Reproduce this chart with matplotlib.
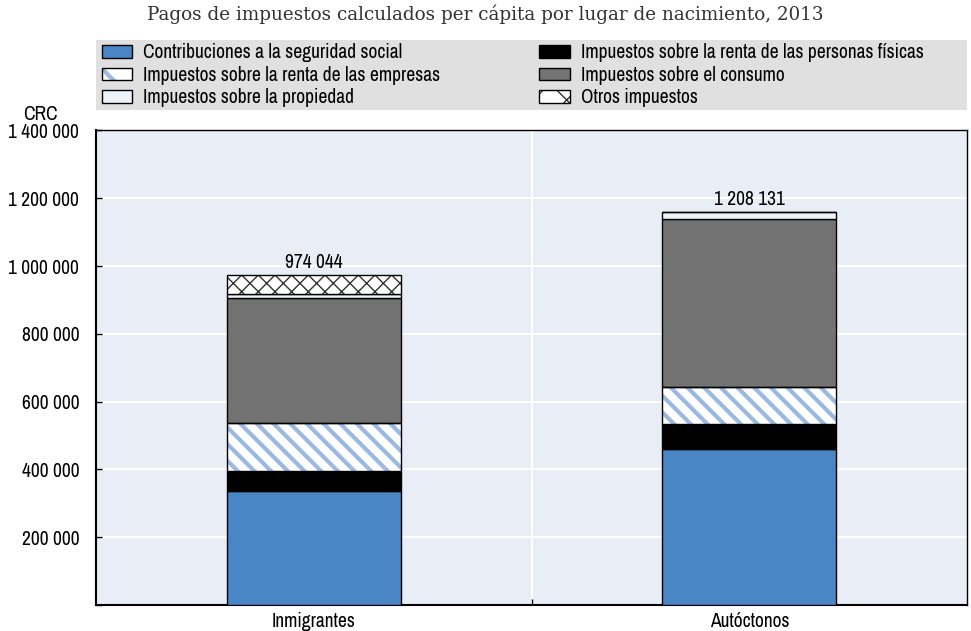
import numpy as np
import matplotlib.pyplot as plt
from matplotlib import font_manager
from matplotlib.patches import Patch, Rectangle
from matplotlib import ticker

# look for a narrow sans face, the reference uses an Arial Narrow look
narrow = None
for f in font_manager.fontManager.ttflist:
    if 'Narrow' in f.name or 'Condensed' in f.name:
        narrow = f.name
        break
if narrow:
    plt.rcParams['font.family'] = [narrow, 'Liberation Sans', 'DejaVu Sans']
    base = 14
else:
    plt.rcParams['font.family'] = ['Liberation Sans', 'DejaVu Sans']
    base = 11

groups = ['Inmigrantes', 'Autóctonos']
social = [335000, 459000]
personal = [61000, 74000]
corporate = [142000, 111000]
consumption = [367000, 494000]
property_tax = [13000, 22000]
other = [56000, 0]
totals = [974044, 1208131]

labels = ['Contribuciones a la seguridad social',
          'Impuestos sobre la renta de las personas físicas',
          'Impuestos sobre la renta de las empresas',
          'Impuestos sobre el consumo',
          'Impuestos sobre la propiedad',
          'Otros impuestos']
series = [social, personal, corporate, consumption, property_tax, other]
# face colour, hatch colour, hatch, hatch width
styles = [('#4A86C6', None, None, 0),
          ('#000000', None, None, 0),
          ('#FFFFFF', '#9CB9E2', '\\\\', 3.0),
          ('#737373', None, None, 0),
          ('#EEF2F9', None, None, 0),
          ('#FFFFFF', '#333333', 'xx', 1.0)]

fig = plt.figure(figsize=(9.71, 6.31), dpi=100)
ax = fig.add_axes([0.0989, 0.0412, 0.897, 0.752])
ax.set_facecolor('#E9EDF6')

x = np.arange(len(groups))
width = 0.4
bottom = np.zeros(len(groups))
handles = {}
for lab, vals, (face, hcol, hatch, hlw) in zip(labels, series, styles):
    vals = np.array(vals, dtype=float)
    if hatch:
        with plt.rc_context({'hatch.linewidth': hlw}):
            bars = ax.bar(x, vals, width, bottom=bottom, color=face,
                          edgecolor=hcol, hatch=hatch, linewidth=0, zorder=3)
            for b in bars:
                if hasattr(b, 'set_hatch_linewidth'):
                    b.set_hatch_linewidth(hlw)
        ax.bar(x, vals, width, bottom=bottom, fill=False,
               edgecolor='black', linewidth=1, zorder=4)
        hp = Patch(facecolor=face, edgecolor=hcol, hatch=hatch[0], linewidth=0)
        if hasattr(hp, 'set_hatch_linewidth'):
            hp.set_hatch_linewidth(hlw)
        handles[lab] = (hp, Patch(fill=False, edgecolor='black', linewidth=1))
    else:
        ax.bar(x, vals, width, bottom=bottom, color=face,
               edgecolor='black', linewidth=1, zorder=3)
        handles[lab] = Patch(facecolor=face, edgecolor='black', linewidth=1)
    bottom += vals

for i, tot in enumerate(totals):
    ax.annotate(f'{tot:,}'.replace(',', ' '), xy=(x[i], bottom[i]),
                xytext=(0, 2), textcoords='offset points',
                ha='center', va='bottom', fontsize=base)

ax.set_xlim(-0.5, len(groups) - 0.5)
ax.set_ylim(0, 1400000)
ax.yaxis.set_major_locator(ticker.MultipleLocator(200000))
ax.yaxis.set_major_formatter(
    ticker.FuncFormatter(lambda v, p: f'{int(v):,}'.replace(',', ' ') if v > 0 else ''))
ax.set_xticks(x)
ax.set_xticklabels(groups)
ax.set_xticks(x[:-1] + 0.5, minor=True)
ax.tick_params(axis='x', which='major', length=0, pad=5, labelsize=base)
ax.tick_params(axis='x', which='minor', direction='in', length=4, width=1)
ax.tick_params(axis='y', direction='in', length=4, width=1, pad=12, labelsize=base)
ax.grid(axis='y', color='white', linewidth=1.5, zorder=0)
ax.grid(axis='x', which='minor', color='white', linewidth=1.5, zorder=0)
ax.set_axisbelow(True)
for s in ['left', 'bottom']:
    ax.spines[s].set_linewidth(1.5)
for s in ['top', 'right']:
    ax.spines[s].set_linewidth(1.0)

# legend background strip
ax.add_patch(Rectangle((0, 1.043), 1, 0.148, transform=ax.transAxes,
                       facecolor='#E0E0E0', edgecolor='none', clip_on=False))
col1 = [labels[0], labels[2], labels[4]]
col2 = [labels[1], labels[3], labels[5]]
leg_kw = dict(loc='upper left', frameon=False, fontsize=base, borderpad=0,
              borderaxespad=0, handlelength=1.55, handleheight=0.62,
              handletextpad=0.57, labelspacing=0.18)
with plt.rc_context({'hatch.linewidth': 3.0, 'hatch.color': '#9CB9E2'}):
    leg1 = ax.legend([handles[l] for l in col1], col1,
                     bbox_to_anchor=(0.007, 1.184), **leg_kw)
ax.add_artist(leg1)
with plt.rc_context({'hatch.linewidth': 1.0, 'hatch.color': '#333333'}):
    ax.legend([handles[l] for l in col2], col2,
              bbox_to_anchor=(0.509, 1.184), **leg_kw)

fig.text(0.042, 1 - 115 / 631, 'CRC', ha='center', va='center', fontsize=base)
fig.text(0.4995, 1 - 14 / 631,
         'Pagos de impuestos calculados per cápita por lugar de nacimiento, 2013',
         ha='center', va='center', fontsize=13.2, family='DejaVu Serif',
         color='#333333')

fig.savefig('out.png', dpi=100)
